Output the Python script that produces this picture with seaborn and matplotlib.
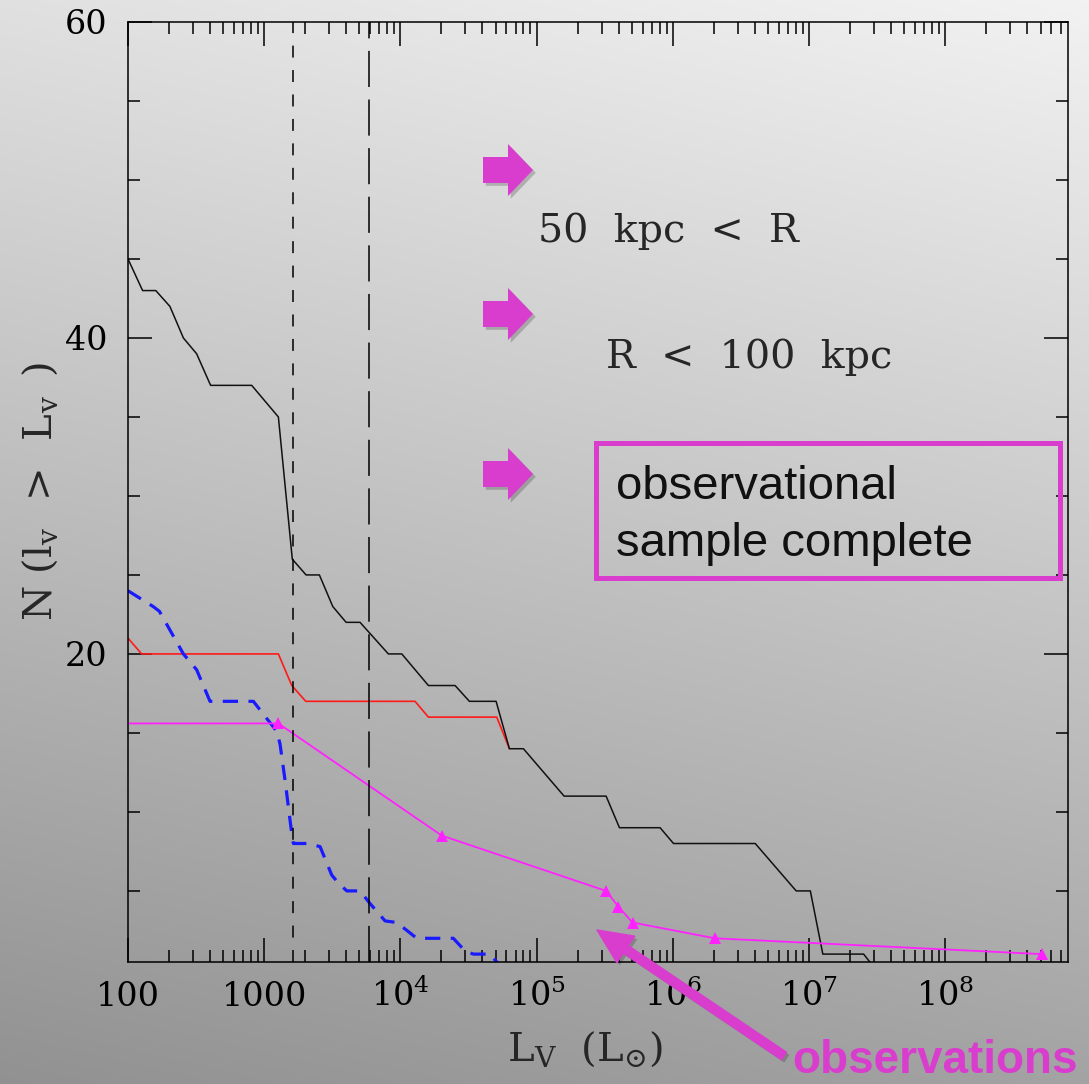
import matplotlib.pyplot as plt
import matplotlib.patches as mpatches
import matplotlib.patheffects as pe
import matplotlib.ticker as mticker
import numpy as np
import pandas as pd
import seaborn as sns

# cumulative satellite counts N(>L_V)
all_lv = [100, 128, 160, 203, 255, 319, 404, 809, 1270, 1607, 2028, 2540, 3186,
          3990, 5050, 8150, 10230, 16040, 25180, 32060, 50350, 63050, 79900,
          158900, 323300, 405000, 805000, 1.01e6, 4.02e6, 8.03e6, 1.02e7,
          1.26e7, 2.51e7, 3.1e7]
all_n = [45, 43, 43, 42, 40, 39, 37, 37, 35, 26, 25, 25, 23, 22, 22, 20, 20, 18,
         18, 17, 17, 14, 14, 11, 11, 9, 9, 8, 8, 5, 5, 1, 1, 0]

red_lv = [100, 126, 1270, 1593, 2018, 12790, 16040, 50900, 63050]
red_n = [21, 20, 20, 18, 17, 17, 16, 16, 14]

blue_lv = [100, 153, 170, 255, 319, 400, 832, 1236, 1306, 1422, 1593, 1637,
           2109, 2570, 3131, 3502, 4036, 5050, 5980, 7710, 9400, 13180, 24430,
           29780, 34290, 45480, 57000]
blue_n = [24, 23, 22.7, 20, 19, 17, 17, 15.1, 14.3, 12, 8.6, 8, 8, 7.8, 6, 5.5,
          5, 5, 4.2, 3.1, 3, 2, 2, 1.2, 1, 1, 0]

obs_lv = [100, 1270, 20100, 323000, 398000, 505000, 2.03e6, 5.08e8]
obs_n = [15.6, 15.6, 8.5, 5, 4, 3, 2, 1]

completeness_short = 1637
completeness_long = 5920

x_major = [1e2, 1e3, 1e4, 1e5, 1e6, 1e7, 1e8]
x_labels = ["100", "1000", r"$10^{4}$", r"$10^{5}$", r"$10^{6}$", r"$10^{7}$", r"$10^{8}$"]
y_major = [20, 40, 60]

PINK = "#d93dce"
W, H = 1089, 1084

sns.set_style("ticks")
plt.rcParams.update({
    "font.family": ["DejaVu Serif"],
    "mathtext.fontset": "dejavuserif",
    "lines.scale_dashes": False,
    "axes.linewidth": 1.1,
})

fig = plt.figure(figsize=(W / 100, H / 100), dpi=100)

# grey slide background, lighter at the top
bg = fig.add_axes([0, 0, 1, 1], zorder=-5)
yy, xx = np.mgrid[0:1:H * 1j, 0:1:W * 1j]
shade = np.clip(0.88 + 0.07 * xx - 0.31 * yy, 0, 1)
bg.imshow(np.dstack([shade] * 3), extent=[0, 1, 0, 1], aspect="auto")
bg.axis("off")

ax = fig.add_axes([128 / W, 1 - 962 / H, 940 / W, 940 / H])
ax.set_facecolor("none")
ax.set_xscale("log")

sns.lineplot(data=pd.DataFrame({"lv": red_lv, "n": red_n}), x="lv", y="n",
             estimator=None, sort=False, color="#ff1a1a", lw=1.2, ax=ax)
sns.lineplot(data=pd.DataFrame({"lv": blue_lv, "n": blue_n}), x="lv", y="n",
             estimator=None, sort=False, color="#1a1aff", lw=2.3,
             linestyle=(0, (11, 7.5)), ax=ax)
sns.lineplot(data=pd.DataFrame({"lv": all_lv, "n": all_n}), x="lv", y="n",
             estimator=None, sort=False, color="#111111", lw=1.1, ax=ax)
sns.lineplot(data=pd.DataFrame({"lv": obs_lv, "n": obs_n}), x="lv", y="n",
             estimator=None, sort=False, color="#ff22ff", lw=1.3,
             marker="^", markersize=8, markeredgewidth=0,
             markevery=list(range(1, len(obs_lv))), ax=ax)

ax.axvline(completeness_short, color="black", lw=1.1, linestyle=(0, (8.6, 9)))
ax.axvline(completeness_long, color="black", lw=1.1, linestyle=(0, (26, 9)))

ax.set_xlim(100, 10 ** 8.9)
ax.set_ylim(0.5, 60)

ax.tick_params(which="both", direction="in", top=True, right=True, width=1.1,
               colors="black")
ax.tick_params(which="major", length=17, labelsize=24)
ax.tick_params(axis="x", which="major", pad=32)
ax.tick_params(axis="y", which="major", pad=15)
ax.tick_params(which="minor", length=8.5)

ax.xaxis.set_major_locator(mticker.FixedLocator(x_major))
ax.xaxis.set_minor_locator(mticker.LogLocator(base=10, subs=np.arange(2, 10), numticks=20))
ax.xaxis.set_minor_formatter(mticker.NullFormatter())
ax.set_xticks(x_major)
ax.set_xticklabels(x_labels)
plt.setp(ax.get_xticklabels(), va="baseline")
ax.yaxis.set_major_locator(mticker.FixedLocator(y_major))
ax.yaxis.set_minor_locator(mticker.MultipleLocator(5))

ax.set_xlabel(r"$\mathrm{L_V}\ \ (\mathrm{L}_{\odot})$", fontsize=29)
ax.xaxis.set_label_coords(0.486, -0.072)
ax.set_ylabel(r"$\mathrm{N\ (l_v\ \,>\ \,L_v\ \,)}$", fontsize=29)
ax.yaxis.set_label_coords(-0.072, 0.5)
for side in ["top", "right", "left", "bottom"]:
    ax.spines[side].set_visible(True)
    ax.spines[side].set_color("black")

# slide overlays
shadow = [pe.withSimplePatchShadow(offset=(2, -2), shadow_rgbFace="black", alpha=0.2)]


def block_arrow(x_left, y_mid):
    pts = [(x_left, y_mid - 13), (x_left + 25, y_mid - 13), (x_left + 25, y_mid - 26),
           (x_left + 50, y_mid), (x_left + 25, y_mid + 26), (x_left + 25, y_mid + 13),
           (x_left, y_mid + 13)]
    verts = [(x / W, 1 - y / H) for x, y in pts]
    fig.add_artist(mpatches.Polygon(verts, closed=True, transform=fig.transFigure,
                                    facecolor=PINK, edgecolor="none",
                                    path_effects=shadow))


for y_mid in [170, 314, 474]:
    block_arrow(483, y_mid)

fig.text(538 / W, 1 - 242 / H, "50  kpc  <  R", fontsize=28.5, va="baseline")
fig.text(606 / W, 1 - 368 / H, "R  <  100  kpc", fontsize=28.5, va="baseline")

fig.add_artist(mpatches.Rectangle((596 / W, 1 - 578 / H), 464 / W, 135.5 / H,
                                  transform=fig.transFigure, fill=False,
                                  edgecolor=PINK, lw=3.6))
fig.text(616 / W, 1 - 499 / H, "observational", fontsize=34,
         family="Liberation Sans", va="baseline", color="#111111")
fig.text(616 / W, 1 - 556 / H, "sample complete", fontsize=34,
         family="Liberation Sans", va="baseline", color="#111111")

fig.text(792 / W, 1 - 1073 / H, "observations", fontsize=33, fontweight="bold",
         family="Liberation Sans", va="baseline", color=PINK)
fig.add_artist(mpatches.FancyArrowPatch(
    (784 / W, 1 - 1056 / H), (597 / W, 1 - 930 / H), transform=fig.transFigure,
    arrowstyle="simple,head_length=25,head_width=23,tail_width=6.5",
    mutation_scale=1, color=PINK, shrinkA=0, shrinkB=0, path_effects=shadow))

fig.savefig("out.png", dpi=100)
